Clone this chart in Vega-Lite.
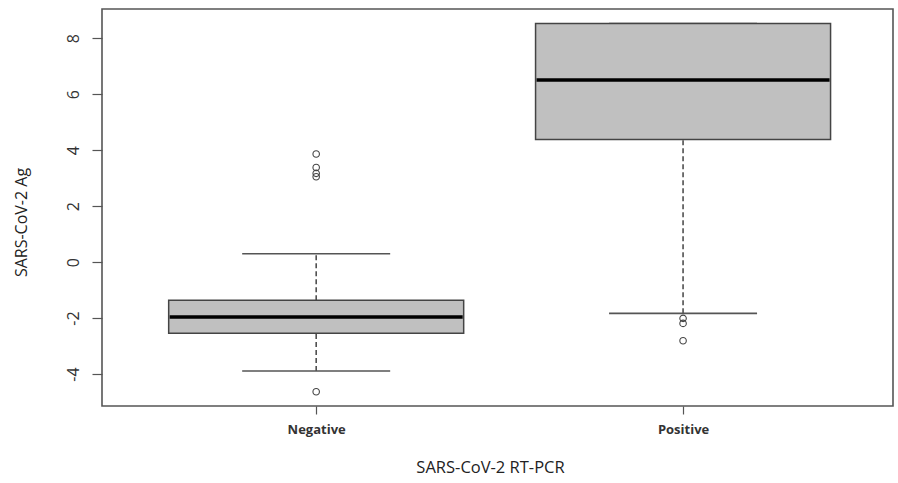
{
  "$schema": "https://vega.github.io/schema/vega-lite/v6.json",
  "width": 791,
  "height": 397,
  "autosize": {"type": "none"},
  "padding": {"left": 102, "top": 9, "right": 5, "bottom": 77},
  "background": "white",
  "config": {
    "view": {"stroke": "#555555", "strokeWidth": 1.6},
    "font": "Open Sans",
    "axis": {"grid": false, "domain": false}
  },
  "datasets": {
    "stats": [
      {"group": "Negative", "lower": -3.89, "q1": -2.54, "median": -1.96, "q3": -1.36, "upper": 0.30},
      {"group": "Positive", "lower": -1.83, "q1": 4.38, "median": 6.5, "q3": 8.52, "upper": 8.52}
    ],
    "outliers": [
      {"group": "Negative", "value": 3.86},
      {"group": "Negative", "value": 3.38},
      {"group": "Negative", "value": 3.17},
      {"group": "Negative", "value": 3.05},
      {"group": "Negative", "value": -4.63},
      {"group": "Positive", "value": -2.01},
      {"group": "Positive", "value": -2.19},
      {"group": "Positive", "value": -2.81}
    ]
  },
  "encoding": {
    "x": {
      "field": "group",
      "type": "nominal",
      "scale": {"type": "point", "domain": ["Negative", "Positive"], "padding": 0.578, "align": 0.505},
      "axis": {
        "title": "SARS-CoV-2 RT-PCR",
        "titleFontSize": 16.5,
        "titleFontWeight": "normal",
        "titleColor": "#222222",
        "titleBaseline": "alphabetic",
        "titleX": 388,
        "titleY": 66,
        "labelAngle": 0,
        "labelFontSize": 13,
        "labelFontWeight": "bold",
        "labelColor": "#333333",
        "labelBaseline": "alphabetic",
        "labelPadding": 19,
        "tickSize": 8,
        "tickColor": "#555555",
        "tickWidth": 1.2
      }
    }
  },
  "layer": [
    {
      "data": {"name": "stats"},
      "mark": {"type": "rule", "strokeDash": [5, 3], "color": "#444444", "strokeWidth": 1.5},
      "encoding": {
        "y": {
          "field": "lower",
          "type": "quantitative",
          "title": "SARS-CoV-2 Ag",
          "scale": {"domain": [-5.14, 9.04], "nice": false, "zero": false},
          "axis": {
            "title": "SARS-CoV-2 Ag",
            "titleFontSize": 16,
            "titleFontWeight": "normal",
            "titleColor": "#222222",
            "titleAngle": -90,
            "titleAlign": "center",
            "titleBaseline": "alphabetic",
            "titleX": -76,
            "titleY": 213,
            "values": [-4, -2, 0, 2, 4, 6, 8],
            "labelExpr": "replace(datum.label, '\u2212', '-')",
            "labelAngle": -90,
            "labelAlign": "center",
            "labelBaseline": "alphabetic",
            "labelPadding": 14,
            "labelFontSize": 16,
            "labelColor": "#333333",
            "tickSize": 10,
            "tickColor": "#555555",
            "tickWidth": 1.2
          }
        },
        "y2": {"field": "q1"}
      }
    },
    {
      "data": {"name": "stats"},
      "mark": {"type": "rule", "strokeDash": [5, 3], "color": "#444444", "strokeWidth": 1.5},
      "encoding": {
        "y": {"field": "q3", "type": "quantitative", "title": "SARS-CoV-2 Ag"},
        "y2": {"field": "upper"}
      }
    },
    {
      "data": {"name": "stats"},
      "mark": {"type": "tick", "size": 148, "thickness": 1.6, "color": "#555555", "opacity": 1},
      "encoding": {
        "y": {"field": "lower", "type": "quantitative", "title": "SARS-CoV-2 Ag"}
      }
    },
    {
      "data": {"name": "stats"},
      "mark": {"type": "tick", "size": 148, "thickness": 1.6, "color": "#555555", "opacity": 1},
      "encoding": {
        "y": {"field": "upper", "type": "quantitative", "title": "SARS-CoV-2 Ag"}
      }
    },
    {
      "data": {"name": "stats"},
      "mark": {"type": "bar", "size": 295, "fill": "#c0c0c0", "stroke": "#444444", "strokeWidth": 1.5},
      "encoding": {
        "y": {"field": "q1", "type": "quantitative", "title": "SARS-CoV-2 Ag"},
        "y2": {"field": "q3"}
      }
    },
    {
      "data": {"name": "stats"},
      "mark": {"type": "tick", "size": 293, "thickness": 3.5, "color": "#000000", "opacity": 1},
      "encoding": {
        "y": {"field": "median", "type": "quantitative", "title": "SARS-CoV-2 Ag"}
      }
    },
    {
      "data": {"name": "outliers"},
      "mark": {"type": "point", "shape": "circle", "filled": false, "size": 42, "stroke": "#444444", "strokeWidth": 1.1, "opacity": 1},
      "encoding": {
        "y": {"field": "value", "type": "quantitative", "title": "SARS-CoV-2 Ag"}
      }
    }
  ]
}
